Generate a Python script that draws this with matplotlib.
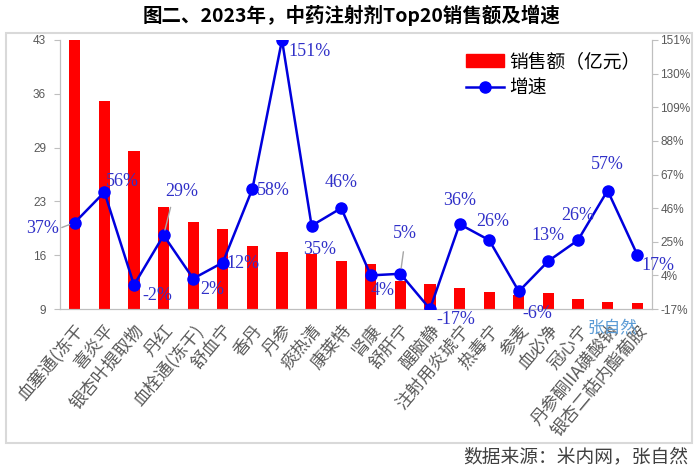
import numpy as np
import matplotlib.pyplot as plt
from matplotlib.patches import Rectangle
from matplotlib.lines import Line2D

plt.rcParams['font.family'] = ['Noto Sans CJK SC', 'DejaVu Sans']

categories = ['血塞通(冻干', '喜炎平', '银杏叶提取物', '丹红', '血栓通(冻干)', '舒血宁',
              '香丹', '丹参', '痰热清', '康莱特', '肾康', '舒肝宁', '醒脑静',
              '注射用炎琥宁', '热毒宁', '参麦', '血必净', '冠心宁',
              '丹参酮IIA磺酸钠', '银杏二萜内酯葡胺']
sales = [43.0, 35.3, 29.0, 21.9, 20.0, 19.1, 16.9, 16.2, 15.9, 15.1,
         14.7, 12.6, 12.2, 11.7, 11.1, 10.8, 11.0, 10.3, 9.9, 9.8]
growth = [37, 56, -2, 29, 2, 12, 58, 151, 35, 46,
          4, 5, -17, 36, 26, -6, 13, 26, 57, 17]

# label offsets in pixels (dx, dy) from each point
offsets = [(-32, -6), (18, 11), (23, -11), (18, 44), (19, -11), (20, -1),
           (21, -2), (28, -11), (8, -24), (0, 26), (12, -15), (4, 40),
           (26, -11), (0, 24), (4, 19), (19, -22), (0, 25), (0, 25),
           (0, 26), (21, -11)]
leaders = {0: (-13, -5), 3: (7, 28), 11: (3, 22)}

fig = plt.figure(figsize=(7, 4.72), dpi=100)
ax = fig.add_axes([60 / 700, 1 - 309 / 472, 592 / 700, 269 / 472])
ax2 = ax.twinx()

x = np.arange(len(categories))
bars = ax.bar(x, sales, width=0.38, color='#FF0000', zorder=2)
ax.set_ylim(9, 43)
ax.set_xlim(-0.5, len(categories) - 0.5)
lticks = np.linspace(9, 43, 6)
ax.set_yticks(lticks)
ax.set_yticklabels([f'{v:.0f}' for v in lticks], family='Liberation Sans',
                   fontsize=8.5, color='#595959')
ax.set_xticks(x)
ax.set_xticklabels(categories, rotation=50, ha='right', rotation_mode='anchor',
                   fontsize=12.5, color='#595959')
ax.tick_params(axis='x', length=0, pad=9)
ax.tick_params(axis='y', length=4, color='#BFBFBF', pad=6)

line, = ax2.plot(x, growth, color='#0000DD', lw=1.8, marker='o', ms=8,
                 markerfacecolor='#0000FF', markeredgecolor='#0000FF', zorder=3)
ax2.set_ylim(-17, 151)
rticks = np.arange(-17, 152, 21)
ax2.set_yticks(rticks)
ax2.set_yticklabels([f'{v}%' for v in rticks], family='Liberation Sans',
                    fontsize=8.5, color='#595959')
ax2.tick_params(axis='y', length=4, color='#BFBFBF', pad=2)

for a in (ax, ax2):
    a.spines['top'].set_visible(False)
    for s in ('left', 'right', 'bottom'):
        a.spines[s].set_color('#BFBFBF')

for i, (g, (dx, dy)) in enumerate(zip(growth, offsets)):
    ax2.annotate(f'{g}%', (i, g), xytext=(dx, dy), textcoords='offset pixels',
                 ha='center', va='center', fontsize=13, color='#3030C8',
                 family='Liberation Serif', zorder=5, annotation_clip=False)
    if i in leaders:
        lx, ly = leaders[i]
        ax2.annotate('', (i, g), xytext=(lx, ly), textcoords='offset pixels',
                     arrowprops=dict(arrowstyle='-', color='#A6A6A6', lw=1,
                                     shrinkA=0, shrinkB=4))

handles = [Rectangle((0, 0), 1, 1, color='#FF0000'),
           Line2D([], [], color='#0000DD', lw=1.8, marker='o', ms=8,
                  markerfacecolor='#0000FF', markeredgecolor='#0000FF')]
ax2.legend(handles, ['销售额（亿元）', '增速'], loc='upper right',
           bbox_to_anchor=(1.0, 1.0), frameon=False, fontsize=13.5,
           handlelength=2.0, handletextpad=0.3, labelspacing=0.3,
           borderaxespad=0.2)

fig.text(612 / 700, 1 - 328 / 472, '张自然', color='#5B9BD5', fontsize=12,
         ha='center', va='center')

fig.text(352 / 700, 1 - 15 / 472, '图二、2023年，中药注射剂Top20销售额及增速',
         fontsize=14, fontweight='bold', ha='center', va='center')
fig.text(688 / 700, 1 - 457 / 472, '数据来源：米内网，张自然', fontsize=13.5,
         color='#404040', ha='right', va='center')

fig.patches.append(Rectangle((6 / 700, 1 - 443 / 472), 686 / 700, 410 / 472,
                             transform=fig.transFigure, fill=False,
                             edgecolor='#D9D9D9', lw=1.5))

fig.savefig('out.png', dpi=100)
